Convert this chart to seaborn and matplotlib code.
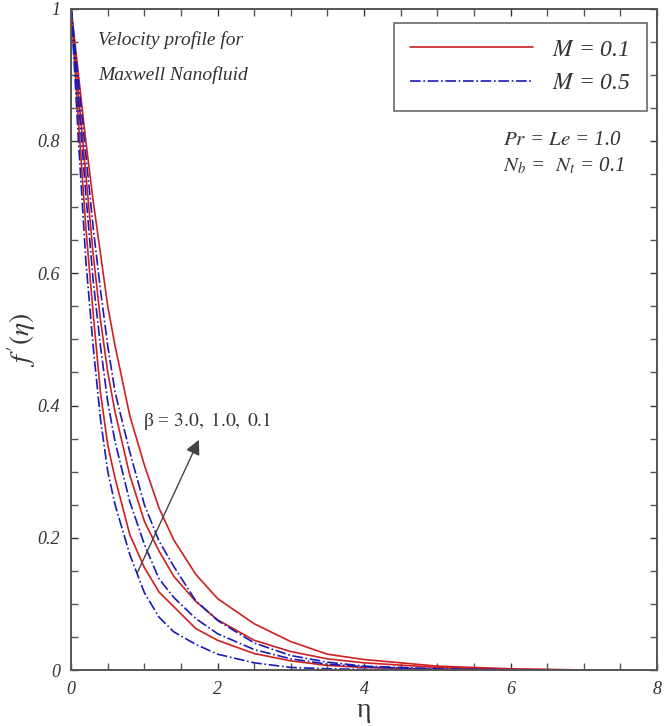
import numpy as np
import pandas as pd
import matplotlib
matplotlib.use("Agg")
import matplotlib.pyplot as plt
from matplotlib.ticker import MultipleLocator, FuncFormatter
from matplotlib.lines import Line2D
import seaborn as sns

# ---------------------
# Data
# ---------------------

eta_m01 = [0, 0.1, 0.2, 0.3, 0.4, 0.5, 0.6, 0.8, 1.0, 1.2, 1.4, 1.7, 2.0, 2.5, 3.0, 3.5, 4.0, 5.0, 6.0, 7.1]
eta_m05 = [0, 0.1, 0.2, 0.3, 0.4, 0.5, 0.6, 0.8, 1.0, 1.2, 1.4, 1.7, 2.0, 2.5, 3.0, 3.5, 4.0, 5.0, 6.4]

# M = 0.1 (red, solid)
f_m01_b3 = [1.0, 0.83, 0.67, 0.54, 0.42, 0.34, 0.29, 0.205, 0.155, 0.118, 0.096, 0.063, 0.045, 0.025, 0.014, 0.007, 0.004, 0.001, 0.0, 0.0]
f_m01_b1 = [1.0, 0.87, 0.75, 0.63, 0.53, 0.45, 0.39, 0.295, 0.225, 0.18, 0.142, 0.104, 0.076, 0.045, 0.028, 0.017, 0.011, 0.004, 0.001, 0.0]
f_m01_b01 = [1.0, 0.90, 0.80, 0.71, 0.63, 0.55, 0.49, 0.385, 0.31, 0.245, 0.197, 0.145, 0.108, 0.07, 0.043, 0.024, 0.016, 0.006, 0.002, 0.0]

# M = 0.5 (blue, dash-dot)
f_m05_b3 = [1.0, 0.80, 0.62, 0.49, 0.38, 0.30, 0.25, 0.175, 0.117, 0.08, 0.058, 0.039, 0.024, 0.011, 0.004, 0.002, 0.001, 0.0, 0.0]
f_m05_b1 = [1.0, 0.86, 0.72, 0.59, 0.49, 0.405, 0.345, 0.255, 0.19, 0.138, 0.11, 0.078, 0.055, 0.031, 0.017, 0.009, 0.005, 0.001, 0.0]
f_m05_b01 = [1.0, 0.89, 0.78, 0.67, 0.575, 0.49, 0.42, 0.33, 0.25, 0.195, 0.157, 0.105, 0.075, 0.041, 0.022, 0.012, 0.006, 0.002, 0.0]

legend_labels = ["$M$ = 0.1", "$M$ = 0.5"]

red = "#d01f1f"
blue = "#1a1ab4"

# ---------------------
# Plot
# ---------------------

sns.set_style("ticks")
plt.rcParams["font.family"] = ["Liberation Serif", "DejaVu Serif"]
plt.rcParams["mathtext.fontset"] = "stix"

fig = plt.figure(figsize=(6.65, 7.26), dpi=100)
ax = fig.add_axes([0.107, 0.077, 0.881, 0.911])

for f in [f_m01_b3, f_m01_b1, f_m01_b01]:
    sns.lineplot(x=eta_m01, y=f, ax=ax, color=red, linewidth=1.2, estimator=None)

for f in [f_m05_b3, f_m05_b1, f_m05_b01]:
    sns.lineplot(x=eta_m05, y=f, ax=ax, color=blue, linewidth=1.2,
                 linestyle="-.", estimator=None)

ax.set_xlim(0, 8)
ax.set_ylim(0, 1)

ax.xaxis.set_major_locator(MultipleLocator(2))
ax.xaxis.set_minor_locator(MultipleLocator(0.5))
ax.yaxis.set_major_locator(MultipleLocator(0.2))
ax.yaxis.set_minor_locator(MultipleLocator(0.05))
ax.yaxis.set_major_formatter(FuncFormatter(lambda v, p: "%g" % round(v, 2)))

ax.tick_params(which="both", direction="in", top=True, right=True,
               length=5, width=1, color="#555555")
ax.tick_params(axis="both", labelsize=13, colors="#333333", pad=8)
for lab in ax.get_xticklabels() + ax.get_yticklabels():
    lab.set_fontstyle("italic")

for s in ax.spines.values():
    s.set_color("#555555")
    s.set_linewidth(1.4)

ax.set_xlabel("η", fontsize=20, labelpad=0, color="#333333")
ax.set_ylabel("$f\\,'(\\eta)$", fontsize=20, labelpad=0, color="#333333")

handles = [
    Line2D([], [], color=red, linewidth=1.2),
    Line2D([], [], color=blue, linewidth=1.2, linestyle="-."),
]
leg = ax.legend(handles, legend_labels, loc="upper right", fontsize=17,
                handlelength=5.2, handletextpad=0.8, frameon=True,
                fancybox=False, edgecolor="#444444", borderpad=0.7,
                labelspacing=0.5, borderaxespad=0,
                bbox_to_anchor=(0.983, 0.979))
leg.get_frame().set_linewidth(1.2)
for t in leg.get_texts():
    t.set_fontstyle("italic")
    t.set_color("#333333")

ax.text(0.37, 0.953, "Velocity profile for", fontsize=14, style="italic",
        color="#333333", va="center")
ax.text(0.37, 0.900, "Maxwell Nanofluid", fontsize=14, style="italic",
        color="#333333", va="center")

ax.text(5.9, 0.80, "$Pr$ = $Le$ = 1.0", fontsize=15, style="italic",
        color="#333333", va="center")
ax.text(5.9, 0.763, "$N_b$ =  $N_t$ = 0.1", fontsize=15, style="italic",
        color="#333333", va="center")

ax.text(0.98, 0.377, "β = $3.0,\\ 1.0,\\ 0.1$", fontsize=14,
        color="#333333", va="center")

ax.annotate("", xy=(1.76, 0.352), xytext=(0.89, 0.144),
            arrowprops=dict(arrowstyle="-|>", color="#444444", lw=1.0,
                            mutation_scale=22))

plt.savefig("out.png", dpi=100)
